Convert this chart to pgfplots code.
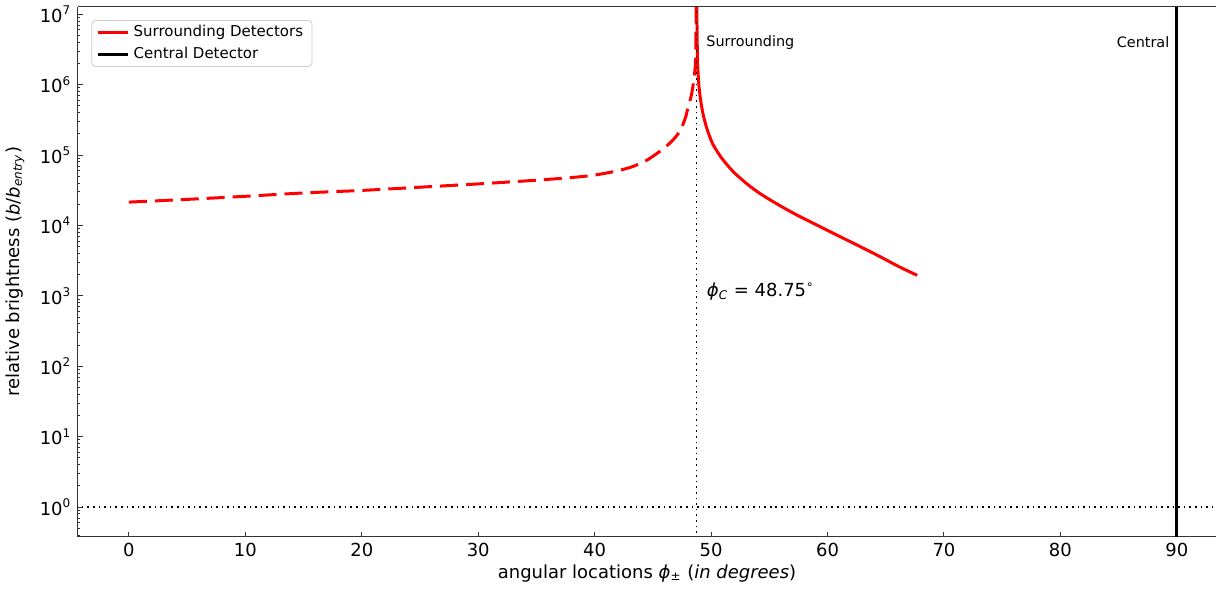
\documentclass[border=0pt]{standalone}
\usepackage{fontspec}
\setmainfont{DejaVu Sans}
\usepackage{pgfplots}
\pgfplotsset{compat=1.18}
\definecolor{spine}{HTML}{333333}

\begin{document}
\fontsize{9}{11}\selectfont
\begin{tikzpicture}
\begin{axis}[
  scale only axis, width=570pt, height=265.3pt,
  ymode=log, xmin=-4.4, xmax=93.4, ymin=0.379, ymax=1.28e7,
  axis lines=left, axis line style={-, spine, line width=0.6pt},
  tick align=inside, major tick length=2.5pt, minor tick length=1.4pt,
  tick style={spine, line width=0.5pt},
  xtick={0,10,...,90},
  ytick={1,10,100,1000,10000,100000,1000000,10000000},
  yticklabels={10\textsuperscript{0},10\textsuperscript{1},10\textsuperscript{2},10\textsuperscript{3},10\textsuperscript{4},10\textsuperscript{5},10\textsuperscript{6},10\textsuperscript{7}},
  minor ytick={0.4,0.5,0.6,0.7,0.8,0.9,2,3,4,5,6,7,8,9,20,30,40,50,60,70,80,90,200,300,400,500,600,700,800,900,2000,3000,4000,5000,6000,7000,8000,9000,20000,30000,40000,50000,60000,70000,80000,90000,200000,300000,400000,500000,600000,700000,800000,900000,2000000,3000000,4000000,5000000,6000000,7000000,8000000,9000000},
  /pgf/number format/assume math mode=true,
  tick label style={font=\fontsize{9}{10}\selectfont},
  xlabel={angular locations \textit{ϕ}\textsubscript{±} (\textit{in degrees})},
  ylabel={relative brightness (\textit{b}/\textit{b}\textsubscript{\textit{entry}})},
  label style={font=\fontsize{9}{10}\selectfont},
  xlabel style={yshift=2pt},
  ylabel style={yshift=1.5pt},
  legend style={at={(0.012,0.975)}, anchor=north west, draw=black!20, rounded corners=2pt,
    font=\fontsize{7.5}{9}\selectfont, inner xsep=2.5pt, inner ysep=0.5pt, row sep=0pt},
  legend cell align=left,
  legend image code/.code={\draw[#1] (0pt,0pt) -- (15pt,0pt);},
]
% surrounding detectors, branch after the critical angle
\addplot[red, line width=1.5pt, smooth, tension=0.4] coordinates {
  (48.76,3e7) (48.80,5e6) (48.85,1.9e6) (48.95,1.0e6) (49.08,6.4e5) (49.3,3.9e5)
  (49.6,2.5e5) (49.9,1.8e5) (50.2,1.38e5) (50.8,9.6e4) (51.4,7.2e4) (52.0,5.6e4)
  (53.0,4.0e4) (54.0,3.0e4) (55.0,2.35e4) (56.2,1.8e4) (57.4,1.4e4) (58.8,1.07e4)
  (60.2,8.2e3) (61.6,6.3e3) (63.1,4.75e3) (64.6,3.55e3) (66.1,2.62e3) (67.7,1.96e3)};
\addlegendentry{Surrounding Detectors}
\addplot[black, line width=1.5pt] coordinates {(90,0.3) (90,2e7)};
\addlegendentry{Central Detector}
% branch before the critical angle
\addplot[red, line width=1.5pt, dash pattern=on 9pt off 4pt, smooth, tension=0.4, forget plot] coordinates {
  (0,2.15e4) (5,2.35e4) (10,2.6e4) (15,2.9e4) (20,3.15e4) (25,3.5e4) (30,3.9e4)
  (35,4.4e4) (38,4.8e4) (40,5.2e4) (42,6.0e4) (43.3,6.9e4) (44.5,8.5e4) (45.6,1.13e5)
  (46.5,1.5e5) (47.0,1.85e5) (47.4,2.3e5) (47.8,3.4e5) (48.0,4.6e5) (48.3,7e5)
  (48.5,1.1e6) (48.65,1.9e6) (48.7,4e6) (48.72,3e7)};
\addplot[black, line width=0.8pt, dotted, forget plot] coordinates {(48.75,0.3) (48.75,2e7)};
\addplot[black, line width=0.8pt, dotted, forget plot] coordinates {(-5,1) (95,1)};
\draw[spine, line width=0.6pt] (rel axis cs:0,1) -- (rel axis cs:1,1);
\node[anchor=west, font=\fontsize{7.2}{9}\selectfont] at (axis cs:49.05,4.0e6) {Surrounding};
\node[anchor=east, font=\fontsize{7.2}{9}\selectfont] at (axis cs:89.9,4.0e6) {Central};
\node[anchor=west, font=\fontsize{9}{10}\selectfont] at (axis cs:49.1,1.15e3)
  {\textit{ϕ}\textsubscript{\textit{C}} = 48.75\textsuperscript{∘}};
\end{axis}
\end{tikzpicture}
\end{document}
